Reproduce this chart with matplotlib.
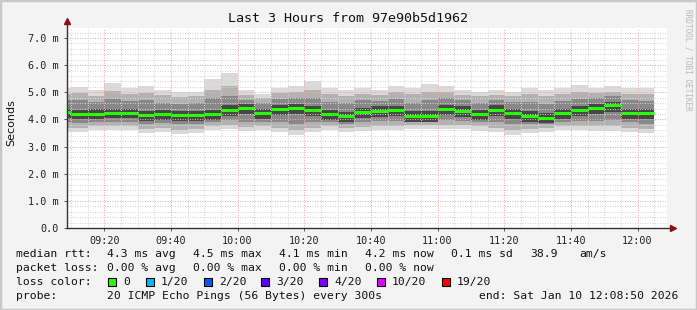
import matplotlib
matplotlib.use("Agg")
import matplotlib.pyplot as plt
from matplotlib.patches import Rectangle
import numpy as np

# 5 minute bins, start time in minutes after midnight (09:05 ... 12:00)
bin_start = np.arange(545, 725, 5)

# median rtt per bin (ms)
med = [4.26, 4.20, 4.21, 4.25, 4.25, 4.16, 4.19, 4.15, 4.15, 4.19, 4.36, 4.43,
       4.22, 4.37, 4.42, 4.34, 4.19, 4.11, 4.26, 4.32, 4.34, 4.13, 4.13, 4.38,
       4.32, 4.19, 4.36, 4.24, 4.13, 4.05, 4.24, 4.34, 4.43, 4.52, 4.24, 4.23]

# smoke bands (ms): outer = min/max ping, then inner bands
hi_out = [5.16, 5.21, 5.08, 5.34, 5.16, 5.23, 5.08, 5.01, 5.01, 5.49, 5.71, 5.08,
          4.94, 5.16, 5.23, 5.42, 5.16, 5.08, 5.16, 5.08, 5.23, 5.16, 5.30, 5.23,
          5.08, 5.01, 5.08, 5.01, 5.16, 5.08, 5.16, 5.27, 5.16, 5.23, 5.16, 5.16]
lo_out = [3.55, 3.52, 3.62, 3.60, 3.61, 3.50, 3.52, 3.46, 3.50, 3.60, 3.64, 3.56,
          3.61, 3.55, 3.43, 3.55, 3.61, 3.55, 3.56, 3.61, 3.61, 3.64, 3.64, 3.64,
          3.64, 3.59, 3.55, 3.43, 3.49, 3.55, 3.61, 3.61, 3.59, 3.59, 3.55, 3.49]
hi2 = [4.95, 4.98, 4.88, 5.05, 4.95, 4.98, 4.90, 4.82, 4.85, 5.10, 5.25, 4.90,
       4.80, 4.98, 5.00, 5.10, 4.92, 4.88, 4.95, 4.90, 5.00, 4.92, 5.02, 5.00,
       4.90, 4.85, 4.90, 4.85, 4.95, 4.88, 4.95, 5.02, 4.98, 5.02, 4.95, 4.95]
lo2 = [3.70, 3.68, 3.75, 3.74, 3.74, 3.66, 3.68, 3.62, 3.66, 3.74, 3.78, 3.72,
       3.75, 3.70, 3.60, 3.70, 3.75, 3.70, 3.72, 3.75, 3.76, 3.78, 3.78, 3.78,
       3.78, 3.74, 3.70, 3.60, 3.65, 3.70, 3.75, 3.76, 3.74, 3.74, 3.70, 3.65]
hi3 = [4.70, 4.72, 4.65, 4.75, 4.68, 4.70, 4.62, 4.58, 4.60, 4.80, 4.88, 4.70,
       4.60, 4.75, 4.78, 4.80, 4.66, 4.60, 4.70, 4.68, 4.75, 4.62, 4.70, 4.78,
       4.70, 4.62, 4.72, 4.64, 4.65, 4.58, 4.68, 4.75, 4.80, 4.85, 4.70, 4.68]
lo3 = [3.90, 3.88, 3.92, 3.92, 3.90, 3.84, 3.86, 3.82, 3.84, 3.92, 3.98, 3.92,
       3.92, 3.90, 3.85, 3.90, 3.90, 3.85, 3.90, 3.94, 3.95, 3.92, 3.92, 3.98,
       3.96, 3.90, 3.90, 3.82, 3.84, 3.82, 3.92, 3.95, 3.96, 3.98, 3.90, 3.85]
hi4 = [4.40, 4.36, 4.38, 4.40, 4.40, 4.32, 4.35, 4.31, 4.30, 4.36, 4.52, 4.58,
       4.38, 4.52, 4.58, 4.50, 4.35, 4.28, 4.42, 4.48, 4.50, 4.30, 4.30, 4.54,
       4.48, 4.35, 4.52, 4.40, 4.30, 4.22, 4.40, 4.50, 4.58, 4.66, 4.40, 4.38]
lo4 = [4.05, 4.00, 4.00, 4.04, 4.04, 3.96, 3.98, 3.95, 3.95, 3.98, 4.14, 4.20,
       4.00, 4.15, 4.20, 4.12, 3.98, 3.92, 4.05, 4.10, 4.12, 3.92, 3.92, 4.16,
       4.10, 3.98, 4.14, 4.02, 3.92, 3.86, 4.02, 4.12, 4.20, 4.28, 4.02, 4.00]

xtick_pos = [560, 580, 600, 620, 640, 660, 680, 700, 720]
xtick_labels = ["09:20", "09:40", "10:00", "10:20", "10:40", "11:00", "11:20", "11:40", "12:00"]
ytick_pos = [0, 1, 2, 3, 4, 5, 6, 7]
ytick_labels = ["0.0", "1.0 m", "2.0 m", "3.0 m", "4.0 m", "5.0 m", "6.0 m", "7.0 m"]

loss_labels = ["0", "1/20", "2/20", "3/20", "4/20", "10/20", "19/20"]
loss_colors = ["#26ff00", "#00b8ff", "#0059ff", "#5e00ff", "#7e00ff", "#dd00ff", "#ff0000"]

W, H = 697, 310
MONO = "DejaVu Sans Mono"
BG = "#f3f3f3"

fig = plt.figure(figsize=(W / 100, H / 100), dpi=100, facecolor=BG)
ax = fig.add_axes([67 / W, (H - 228) / H, 600 / W, 200 / H])
ax.set_facecolor("white")
x0 = 548 + 50 / 60
ax.set_xlim(x0, x0 + 180)
ax.set_ylim(0, 200 / 27.14)

# smoke
layers = [(lo_out, hi_out, "#dadada"), (lo2, hi2, "#b2b2b2"),
          (lo3, hi3, "#888888"), (lo4, hi4, "#474747")]
for lo, hi, col in layers:
    lo = np.array(lo)
    hi = np.array(hi)
    ax.bar(bin_start, hi - lo, bottom=lo, width=5, align="edge", color=col,
           linewidth=0, antialiased=False, zorder=1)

# grid
for y in np.arange(0.2, 7.4, 0.2):
    if abs(y - round(y)) < 1e-6:
        continue
    ax.axhline(y, color="#d4d4d4", lw=0.72, ls=(0, (1, 1.5)), zorder=2)
for x in range(550, 730, 5):
    if x % 20 == 0:
        continue
    ax.axvline(x, color="#d4d4d4", lw=0.72, ls=(0, (1, 1.5)), zorder=2)
for y in ytick_pos[1:]:
    ax.axhline(y, color="#eba9a9", lw=0.72, ls=(0, (1, 1.5)), zorder=2.1)
for x in xtick_pos:
    ax.axvline(x, color="#eba9a9", lw=0.72, ls=(0, (1, 1.5)), zorder=2.1)

# median
ax.hlines(med, bin_start, bin_start + 5, colors="#26ff00", lw=2.2, zorder=4)

for s in ax.spines.values():
    s.set_visible(False)
ax.plot([0, 0], [0, 1.035], transform=ax.transAxes, color="#333333", lw=1, clip_on=False, zorder=5)
ax.plot([0, 1.01], [0, 0], transform=ax.transAxes, color="#333333", lw=1, clip_on=False, zorder=5)
ax.plot([0], [1.035], transform=ax.transAxes, marker="^", ms=4, color="#8b1010", clip_on=False, zorder=6)
ax.plot([1.01], [0], transform=ax.transAxes, marker=">", ms=4, color="#8b1010", clip_on=False, zorder=6)

ax.set_xticks(xtick_pos)
ax.set_xticklabels(xtick_labels, family=MONO, fontsize=7.3, color="#222222")
ax.set_yticks(ytick_pos)
ax.set_yticklabels(ytick_labels, family=MONO, fontsize=7.3, color="#222222")
ax.tick_params(length=2, width=0.7, color="#555555", pad=4)

fig.text(348 / W, 1 - 19 / H, "Last 3 Hours from 97e90b5d1962", family=MONO,
         fontsize=9.6, ha="center", va="center", color="#111111")
fig.text(11 / W, 1 - 123 / H, "Seconds", fontsize=8, rotation=90,
         ha="center", va="center", color="#111111")
fig.text(688 / W, 1 - 60 / H, "RRDTOOL / TOBI OETIKER", family=MONO, fontsize=5.6,
         rotation=-90, ha="center", va="center", color="#b8b8b8")


def txt(x, y, s):
    fig.text(x / W, 1 - y / H, s, family=MONO, fontsize=8.2, ha="left",
             va="center", color="#111111")


txt(16, 254, "median rtt:")
for x, s in zip([107, 193, 279, 365, 451, 530, 579],
                ["4.3 ms avg", "4.5 ms max", "4.1 ms min", "4.2 ms now",
                 "0.1 ms sd", "38.9", "am/s"]):
    txt(x, 254, s)
txt(16, 268, "packet loss:")
for x, s in zip([107, 193, 279, 365],
                ["0.00 % avg", "0.00 % max", "0.00 % min", "0.00 % now"]):
    txt(x, 268, s)
txt(16, 282, "loss color:")
sq_x = [108, 146, 204, 261, 319, 377, 442]
for x, lab, col in zip(sq_x, loss_labels, loss_colors):
    fig.add_artist(Rectangle((x / W, 1 - 286 / H), 8 / W, 8 / H,
                             transform=fig.transFigure, fc=col, ec="black", lw=0.8))
    txt(x + 15, 282, lab)
txt(16, 296, "probe:")
txt(107, 296, "20 ICMP Echo Pings (56 Bytes) every 300s")
txt(479, 296, "end: Sat Jan 10 12:08:50 2026")

fig.add_artist(Rectangle((0, 0), 1, 1, transform=fig.transFigure, fill=False,
                         ec="#c8c8c8", lw=2.5))

fig.savefig("out.png", dpi=100, facecolor=BG)
